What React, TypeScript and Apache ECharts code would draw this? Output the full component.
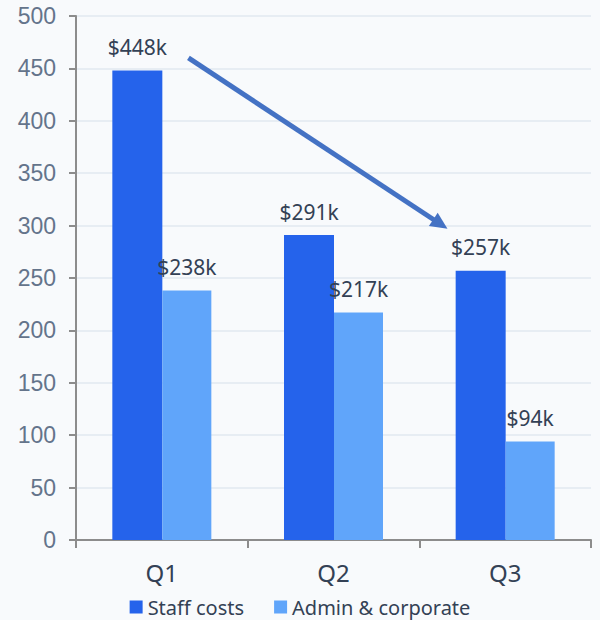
import React, { useEffect, useRef } from "react";
import * as echarts from "echarts";

const categories = ["Q1", "Q2", "Q3"];
const staffCosts = [448, 291, 257];
const adminCorporate = [238, 217, 94];
const seriesNames = ["Staff costs", "Admin & corporate"];
const yTicks = { min: 0, max: 500, interval: 50 };
// trend arrow annotation: [category position, value]
const arrowFrom = [0.155, 460];
const arrowTo = [1.664, 297];

export default function App() {
  const ref = useRef<HTMLDivElement>(null);
  useEffect(() => {
    if (!ref.current) return;
    const chart = echarts.init(ref.current, null, { renderer: "svg" });
    const labelStyle = {
      show: true,
      position: "top",
      distance: 13,
      color: "#334155",
      fontSize: 21,
      fontFamily: "Noto Sans",
      formatter: (p: any) => "$" + p.value + "k",
    };
    chart.setOption({
      animation: false,
      backgroundColor: "#f8fafc",
      grid: { left: 76, right: 9, top: 16, bottom: 80, containLabel: false },
      legend: {
        top: 592,
        left: "center",
        icon: "rect",
        itemWidth: 13,
        itemHeight: 13,
        itemGap: 30,
        itemStyle: { borderWidth: 0 },
        textStyle: { fontSize: 20, color: "#334155", fontFamily: "Noto Sans" },
        data: seriesNames,
      },
      xAxis: {
        type: "category",
        data: categories,
        axisLine: { lineStyle: { color: "#8c8c8c", width: 2 } },
        axisTick: { show: true, length: 8, lineStyle: { color: "#8c8c8c", width: 2 } },
        axisLabel: { fontSize: 24, color: "#334155", fontFamily: "Noto Sans", margin: 20 },
      },
      yAxis: {
        type: "value",
        min: yTicks.min,
        max: yTicks.max,
        interval: yTicks.interval,
        axisLine: { show: true, lineStyle: { color: "#8c8c8c", width: 2 } },
        axisTick: { show: true, length: 7, lineStyle: { color: "#8c8c8c", width: 2 } },
        axisLabel: { fontSize: 23, color: "#64748b", fontFamily: "Liberation Sans", margin: 20 },
        splitLine: { lineStyle: { color: "#e2e8f0", width: 1.5 } },
      },
      series: [
        {
          name: seriesNames[0],
          type: "bar",
          data: staffCosts,
          barWidth: 50,
          barGap: "0%",
          itemStyle: { color: "#2563eb" },
          label: labelStyle,
        },
        {
          name: seriesNames[1],
          type: "bar",
          data: adminCorporate,
          barWidth: 49,
          itemStyle: { color: "#60a5fa" },
          label: labelStyle,
        },
      ],
    });

    const toPx = (pos: number[]) => {
      const base = Math.floor(pos[0]);
      const p0 = chart.convertToPixel({ gridIndex: 0 }, [base, pos[1]]) as number[];
      const p1 = chart.convertToPixel({ gridIndex: 0 }, [base + 1, pos[1]]) as number[];
      const band = p1[0] - p0[0];
      return [p0[0] + (pos[0] - base) * band, p0[1]];
    };
    const a = toPx(arrowFrom);
    const b = toPx(arrowTo);
    const dx = b[0] - a[0];
    const dy = b[1] - a[1];
    const len = Math.sqrt(dx * dx + dy * dy);
    const ux = dx / len;
    const uy = dy / len;
    const headLen = 17;
    const headHalf = 8;
    const baseX = b[0] - ux * headLen;
    const baseY = b[1] - uy * headLen;
    const color = "#4472c4";
    chart.setOption({
      graphic: [
        {
          type: "line",
          shape: { x1: a[0], y1: a[1], x2: baseX + ux * 2, y2: baseY + uy * 2 },
          style: { stroke: color, lineWidth: 5 },
          z: 100,
        },
        {
          type: "polygon",
          shape: {
            points: [
              [b[0], b[1]],
              [baseX - uy * headHalf, baseY + ux * headHalf],
              [baseX + uy * headHalf, baseY - ux * headHalf],
            ],
          },
          style: { fill: color },
          z: 100,
        },
      ],
    });
    return () => chart.dispose();
  }, []);
  return (
    <div
      ref={ref}
      style={{ position: "fixed", left: 0, top: 0, width: 600, height: 620 }}
    />
  );
}
